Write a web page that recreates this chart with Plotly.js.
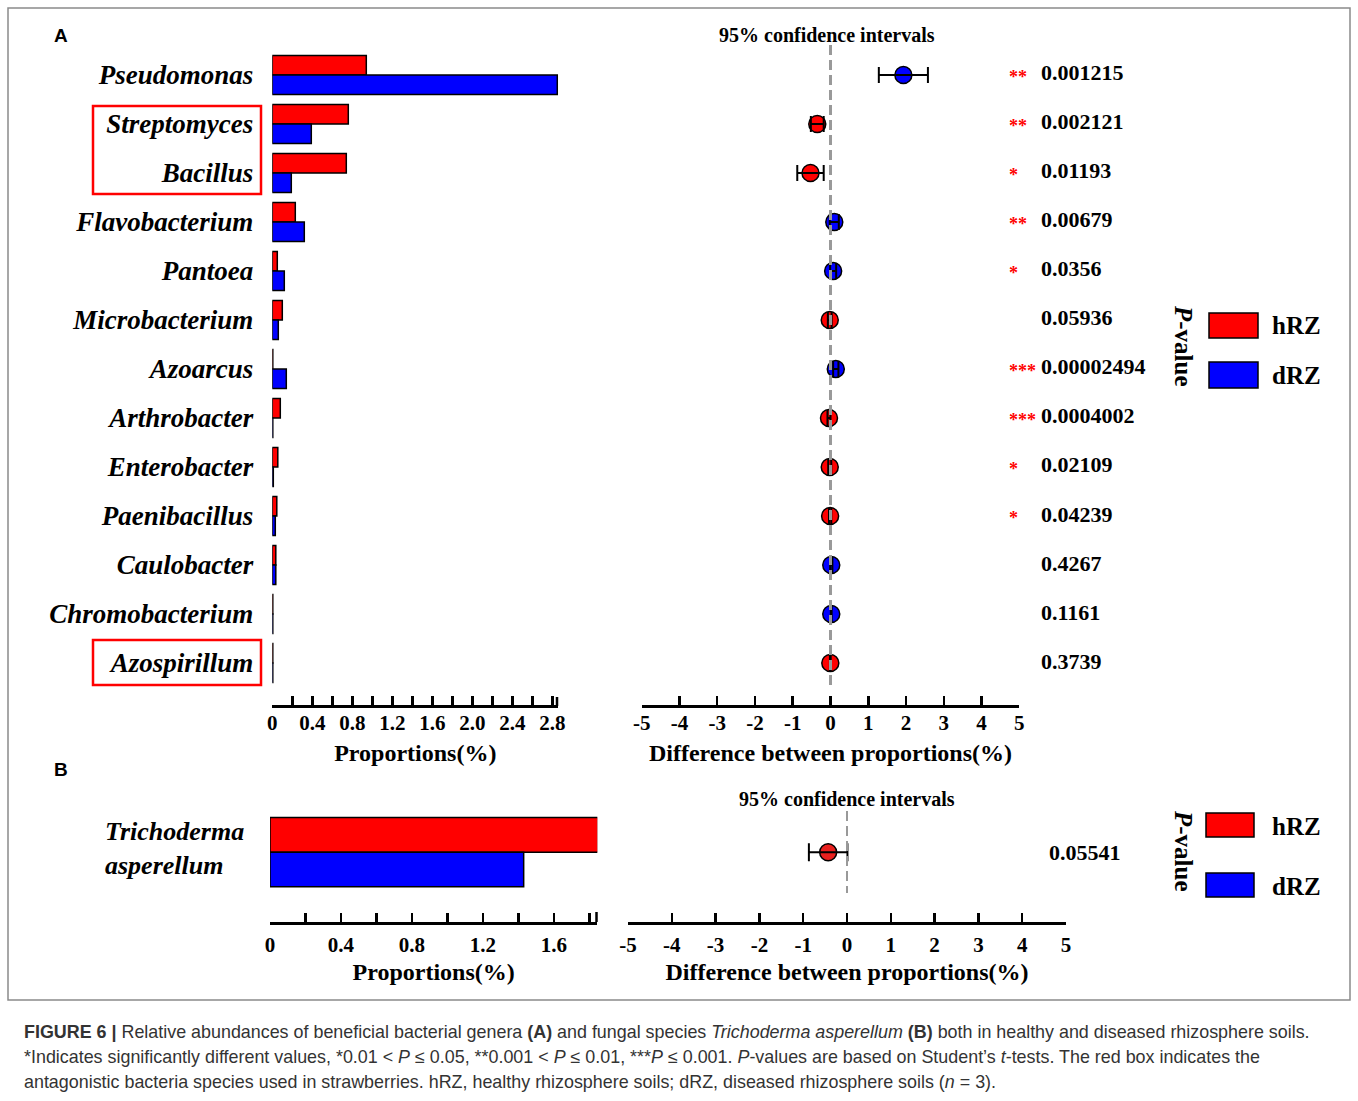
<!DOCTYPE html>
<html>
<head>
<meta charset="utf-8">
<script src="https://cdn.plot.ly/plotly-3.0.1.min.js"></script>
<style>
  html, body { margin: 0; padding: 0; background: #fff; }
  #chart { width: 1358px; height: 1101px; }
</style>
</head>
<body>
<div id="chart"></div>
<script>
// ---------------- DATA ----------------
const genera = ["Pseudomonas", "Streptomyces", "Bacillus", "Flavobacterium", "Pantoea",
  "Microbacterium", "Azoarcus", "Arthrobacter", "Enterobacter", "Paenibacillus",
  "Caulobacter", "Chromobacterium", "Azospirillum"];
const hRZ_A = [0.94, 0.76, 0.74, 0.23, 0.05, 0.10, 0.005, 0.08, 0.055, 0.045, 0.035, 0.005, 0.005];
const dRZ_A = [2.85, 0.39, 0.19, 0.32, 0.12, 0.06, 0.14, 0.005, 0.01, 0.03, 0.035, 0.005, 0.005];
const diff_A = [1.93, -0.35, -0.53, 0.10, 0.07, -0.02, 0.14, -0.04, -0.02, -0.01, 0.02, 0.02, -0.005];
const ci_A = [0.65, 0.17, 0.35, 0.12, 0.08, 0.05, 0.07, 0.04, 0.04, 0.03, 0.03, 0.01, 0.01];
const pval_A = ["0.001215", "0.002121", "0.01193", "0.00679", "0.0356", "0.05936",
  "0.00002494", "0.0004002", "0.02109", "0.04239", "0.4267", "0.1161", "0.3739"];

const species_B = ["Trichoderma<br>asperellum"];
const hRZ_B = [1.85];
const dRZ_B = [1.43];
const diff_B = [-0.43];
const ci_B = [0.44];
const pval_B = ["0.05541"];

const propTicksA = [0, 0.2, 0.4, 0.6, 0.8, 1.0, 1.2, 1.4, 1.6, 1.8, 2.0, 2.2, 2.4, 2.6, 2.8];
const propLabelsA = ["0", "", "0.4", "", "0.8", "", "1.2", "", "1.6", "", "2.0", "", "2.4", "", "2.8"];
const propTicksB = [0, 0.2, 0.4, 0.6, 0.8, 1.0, 1.2, 1.4, 1.6, 1.8];
const propLabelsB = ["0", "", "0.4", "", "0.8", "", "1.2", "", "1.6", ""];
const diffTicks = [-5, -4, -3, -2, -1, 0, 1, 2, 3, 4, 5];
const diffLabels = ["-5", "-4", "-3", "-2", "-1", "0", "1", "2", "3", "4", "5"];

const groupNames = ["hRZ", "dRZ"];
const groupColors = ["#ff0000", "#0000ff"];

// ---------------- HELPERS ----------------
const W = 1358, H = 1101;
const px = x => x / W;
const py = y => 1 - y / H;
const SERIF = "Liberation Serif, Times New Roman, serif";
const SANS = "Liberation Sans, Arial, sans-serif";

function starsFor(p) {
  const v = parseFloat(p);
  if (v <= 0.001) return "***";
  if (v <= 0.01) return "**";
  if (v <= 0.05) return "*";
  return "";
}
function pointColor(d) { return d < 0 ? groupColors[0] : groupColors[1]; }

// ---------------- TRACES ----------------
const barLine = { color: "#000", width: 1.5 };
const traces = [
  { type: "bar", orientation: "h", y: genera, x: hRZ_A, name: groupNames[0],
    marker: { color: groupColors[0], line: barLine }, xaxis: "x", yaxis: "y", showlegend: false },
  { type: "bar", orientation: "h", y: genera, x: dRZ_A, name: groupNames[1],
    marker: { color: groupColors[1], line: barLine }, xaxis: "x", yaxis: "y", showlegend: false },
  { type: "scatter", mode: "markers", x: diff_A, y: genera, xaxis: "x2", yaxis: "y2",
    marker: { size: 17, color: diff_A.map(pointColor), line: { color: "#000", width: 1.5 } },
    showlegend: false, hoverinfo: "x+y" },
  { type: "scatter", mode: "markers", x: diff_A, y: genera, xaxis: "x2", yaxis: "y2",
    marker: { size: 1, opacity: 0 },
    error_x: { type: "data", array: ci_A, symmetric: true, color: "#000", thickness: 2, width: 8 },
    showlegend: false, hoverinfo: "skip" },
  { type: "bar", orientation: "h", y: species_B, x: hRZ_B, name: groupNames[0],
    marker: { color: groupColors[0], line: barLine }, xaxis: "x3", yaxis: "y3", showlegend: false },
  { type: "bar", orientation: "h", y: species_B, x: dRZ_B, name: groupNames[1],
    marker: { color: groupColors[1], line: barLine }, xaxis: "x3", yaxis: "y3", showlegend: false },
  { type: "scatter", mode: "markers", x: diff_B, y: species_B, xaxis: "x4", yaxis: "y4",
    marker: { size: 17, color: "#e8201e", line: { color: "#000", width: 1.5 } },
    showlegend: false },
  { type: "scatter", mode: "markers", x: diff_B, y: species_B, xaxis: "x4", yaxis: "y4",
    marker: { size: 1, opacity: 0 },
    error_x: { type: "data", array: ci_B, symmetric: true, color: "#000", thickness: 2, width: 9 },
    showlegend: false, hoverinfo: "skip" }
];

// ---------------- AXES ----------------
const tickFont = { family: SERIF, size: 21, weight: "bold", color: "#000" };
const titleFont = { family: SERIF, size: 24, weight: "bold", color: "#000" };
function xAx(domain, range, tv, tt, title, anchor, lblStand, titleStand) {
  return {
    domain, range, anchor, tickmode: "array", tickvals: tv, ticktext: tt,
    ticks: "inside", ticklen: 9, tickwidth: 2.5, tickcolor: "#000",
    showline: true, linewidth: 3, linecolor: "#000", mirror: false,
    showgrid: false, zeroline: false, tickfont: tickFont, ticklabelstandoff: lblStand,
    title: { text: title, font: titleFont, standoff: titleStand }, automargin: false, fixedrange: true
  };
}
function yAx(domain, range, anchor, showLabels) {
  return {
    domain, range, anchor, type: "category", showline: false, showgrid: false,
    zeroline: false, ticks: "", showticklabels: showLabels,
    tickfont: { family: SERIF, size: 27, weight: "bold", style: "italic", color: "#000" },
    ticklabelstandoff: 18, automargin: false, fixedrange: true
  };
}

const yA = [py(705), py(50.5)];
const rA = [12.857, -0.5];
const yB = [py(921.5), py(795)];
const rB = [0.8, -0.661];

// ---------------- SHAPES ----------------
const shapes = [
  // outer frame
  { type: "rect", xref: "paper", yref: "paper", x0: px(8), x1: px(1350), y0: py(8), y1: py(1000),
    line: { color: "#8a8a8a", width: 1.5 } },
  // red boxes
  { type: "rect", xref: "paper", yref: "paper", x0: px(93), x1: px(261), y0: py(106), y1: py(194),
    line: { color: "#ff0000", width: 2.5 } },
  { type: "rect", xref: "paper", yref: "paper", x0: px(93), x1: px(261), y0: py(640), y1: py(685),
    line: { color: "#ff0000", width: 2.5 } },
  // zero reference lines
  { type: "line", xref: "x2", yref: "paper", x0: 0, x1: 0, y0: py(45), y1: py(688),
    line: { color: "#999", width: 3, dash: "10px,5px" }, layer: "above" },
  { type: "line", xref: "x4", yref: "paper", x0: 0, x1: 0, y0: py(811), y1: py(893),
    line: { color: "#999", width: 2, dash: "10px,5px" }, layer: "above" },
  // axis end caps
  { type: "line", xref: "paper", yref: "paper", x0: px(557), x1: px(557), y0: py(697), y1: py(706),
    line: { color: "#000", width: 2.5 } },
  { type: "line", xref: "paper", yref: "paper", x0: px(596.5), x1: px(596.5), y0: py(912), y1: py(922),
    line: { color: "#000", width: 2.5 } },
  // legend boxes A
  { type: "rect", xref: "paper", yref: "paper", x0: px(1209), x1: px(1258), y0: py(313), y1: py(338),
    fillcolor: groupColors[0], line: { color: "#000", width: 1.5 } },
  { type: "rect", xref: "paper", yref: "paper", x0: px(1209), x1: px(1258), y0: py(362), y1: py(388),
    fillcolor: groupColors[1], line: { color: "#000", width: 1.5 } },
  // legend boxes B
  { type: "rect", xref: "paper", yref: "paper", x0: px(1206), x1: px(1254), y0: py(813), y1: py(837),
    fillcolor: groupColors[0], line: { color: "#000", width: 1.5 } },
  { type: "rect", xref: "paper", yref: "paper", x0: px(1206), x1: px(1254), y0: py(873), y1: py(897),
    fillcolor: groupColors[1], line: { color: "#000", width: 1.5 } }
];

// ---------------- ANNOTATIONS ----------------
const ann = [];
const pFont = { family: SERIF, size: 22, weight: "bold", color: "#000" };
const starFont = { family: SERIF, size: 18, weight: "bold", color: "#ff0000" };
genera.forEach((g, i) => {
  ann.push({ xref: "paper", yref: "y2", x: px(1039), y: g, text: pval_A[i], showarrow: false,
    xanchor: "left", yanchor: "middle", yshift: 2, font: pFont });
  const s = starsFor(pval_A[i]);
  if (s) ann.push({ xref: "paper", yref: "y2", x: px(1007), y: g, text: s, showarrow: false,
    xanchor: "left", yanchor: "middle", yshift: -2, font: starFont });
});
species_B.forEach((g, i) => {
  ann.push({ xref: "paper", yref: "y4", x: px(1047), y: g, text: pval_B[i], showarrow: false,
    xanchor: "left", yanchor: "middle", font: pFont });
  ann.push({ xref: "paper", yref: "y3", x: px(103), y: g, text: g, showarrow: false,
    xanchor: "left", yanchor: "middle", align: "left", yshift: 4,
    font: { family: SERIF, size: 26, weight: "bold", style: "italic", color: "#000" } });
});
const ciFont = { family: SERIF, size: 20, weight: "bold", color: "#000" };
ann.push({ xref: "paper", yref: "paper", x: px(827), y: py(35), text: "95% confidence intervals",
  showarrow: false, xanchor: "center", yanchor: "middle", font: ciFont });
ann.push({ xref: "paper", yref: "paper", x: px(847), y: py(799), text: "95% confidence intervals",
  showarrow: false, xanchor: "center", yanchor: "middle", font: ciFont });
const legFont = { family: SERIF, size: 25, weight: "bold", color: "#000" };
[[326, 376], [826, 886]].forEach(pair => {
  pair.forEach((yy, k) => ann.push({ xref: "paper", yref: "paper", x: px(1270), y: py(yy),
    text: groupNames[k], showarrow: false, xanchor: "left", yanchor: "middle", font: legFont }));
});
ann.push({ xref: "paper", yref: "paper", x: px(1184), y: py(346), text: "<i>P</i>-value",
  textangle: 90, showarrow: false, xanchor: "center", yanchor: "middle", font: legFont });
ann.push({ xref: "paper", yref: "paper", x: px(1184), y: py(851), text: "<i>P</i>-value",
  textangle: 90, showarrow: false, xanchor: "center", yanchor: "middle", font: legFont });
const panelFont = { family: SANS, size: 19, weight: "bold", color: "#000" };
ann.push({ xref: "paper", yref: "paper", x: px(52), y: py(35), text: "A", showarrow: false,
  xanchor: "left", yanchor: "middle", font: panelFont });
ann.push({ xref: "paper", yref: "paper", x: px(52), y: py(769), text: "B", showarrow: false,
  xanchor: "left", yanchor: "middle", font: panelFont });
// caption
const capFont = { family: SANS, size: 17.9, color: "#333" };
const capLines = [
  "<b>FIGURE 6 |</b> Relative abundances of beneficial bacterial genera <b>(A)</b> and fungal species <i>Trichoderma asperellum</i> <b>(B)</b> both in healthy and diseased rhizosphere soils.",
  "*Indicates significantly different values, *0.01 &lt; <i>P</i> ≤ 0.05, **0.001 &lt; <i>P</i> ≤ 0.01, ***<i>P</i> ≤ 0.001. <i>P</i>-values are based on Student’s <i>t</i>-tests. The red box indicates the",
  "antagonistic bacteria species used in strawberries. hRZ, healthy rhizosphere soils; dRZ, diseased rhizosphere soils (<i>n</i> = 3)."
];
[1032, 1057, 1082].forEach((yy, i) => ann.push({ xref: "paper", yref: "paper", x: px(22), y: py(yy),
  text: capLines[i], showarrow: false, xanchor: "left", yanchor: "middle", font: capFont }));

// ---------------- LAYOUT ----------------
const layout = {
  width: W, height: H, margin: { l: 0, r: 0, t: 0, b: 0 },
  paper_bgcolor: "#fff", plot_bgcolor: "rgba(0,0,0,0)",
  barmode: "group", bargap: 0.2, bargroupgap: 0, showlegend: false,
  xaxis: xAx([px(272.3), px(558.3)], [0, 2.86], propTicksA, propLabelsA, "Proportions(%)", "y", -3, 10),
  yaxis: yAx(yA, rA, "x", true),
  xaxis2: xAx([px(641.7), px(1019.3)], [-5, 5], diffTicks, diffLabels, "Difference between proportions(%)", "y2", -3, 10),
  yaxis2: yAx(yA, rA, "x2", false),
  xaxis3: xAx([px(270), px(597.3)], [0, 1.845], propTicksB, propLabelsB, "Proportions(%)", "y3", 2, 8),
  yaxis3: yAx(yB, rB, "x3", false),
  xaxis4: xAx([px(628), px(1066)], [-5, 5], diffTicks, diffLabels, "Difference between proportions(%)", "y4", 2, 8),
  yaxis4: yAx(yB, rB, "x4", false),
  shapes, annotations: ann
};

Plotly.newPlot("chart", traces, layout, { displayModeBar: false, staticPlot: true });
</script>
</body>
</html>
